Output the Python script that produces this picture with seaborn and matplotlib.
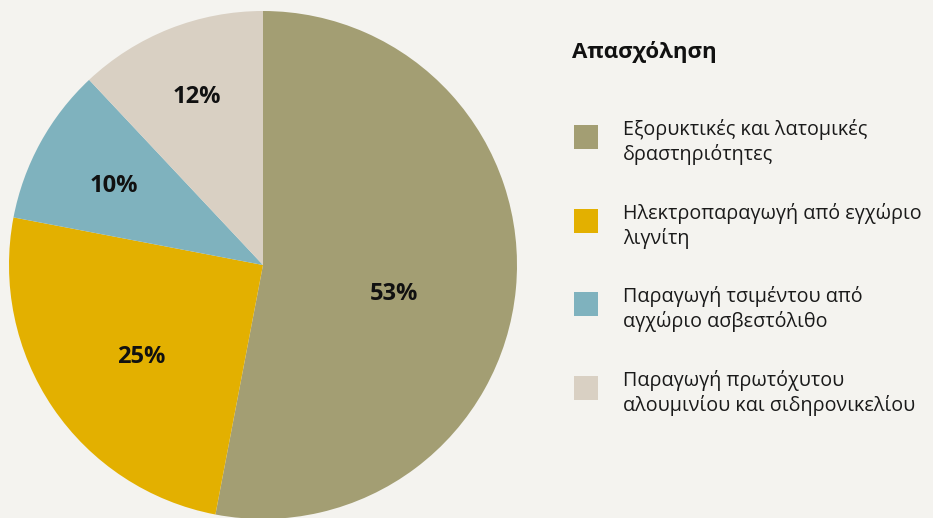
import numpy as np
import matplotlib
matplotlib.use("Agg")
import matplotlib.pyplot as plt
from matplotlib.patches import Rectangle
import seaborn as sns

categories = ["Εξορυκτικές και λατομικές\nδραστηριότητες",
              "Ηλεκτροπαραγωγή από εγχώριο\nλιγνίτη",
              "Παραγωγή τσιμέντου από\nαγχώριο ασβεστόλιθο",
              "Παραγωγή πρωτόχυτου\nαλουμινίου και σιδηρονικελίου"]
values = [53, 25, 10, 12]
pct_labels = ["53%", "25%", "10%", "12%"]
legend_title = "Απασχόληση"

colors = ["#A39E73", "#E3B000", "#7FB2BE", "#D9D0C3"]
bg = "#F4F3EF"
label_dist = [0.53, 0.60, 0.665, 0.71]
label_ang_off = [-7, 3, 1, 0]

sns.set_theme(style="white")
plt.rcParams["font.family"] = ["Open Sans", "DejaVu Sans"]

W, H = 933, 518
fig = plt.figure(figsize=(W / 100, H / 100), dpi=100, facecolor=bg)
cx, cy, r = 263, 265, 254
ax = fig.add_axes([(cx - r) / W, (H - cy - r) / H, 2 * r / W, 2 * r / H])
ax.set_facecolor(bg)
wedges, _ = ax.pie(values, colors=colors, startangle=90, counterclock=False,
                   radius=1, wedgeprops=dict(linewidth=0))
ax.set_xlim(-1, 1)
ax.set_ylim(-1, 1)
ax.set_aspect("equal")
ax.axis("off")

for w, lab, d, off in zip(wedges, pct_labels, label_dist, label_ang_off):
    ang = np.deg2rad((w.theta1 + w.theta2) / 2 + off)
    ax.text(d * np.cos(ang), d * np.sin(ang), lab, ha="center", va="center",
            fontsize=17, fontweight="bold", color="#111111")

fig.text(572 / W, 1 - 52 / H, legend_title, fontsize=16, fontweight="bold",
         color="#111111", ha="left", va="center")
sq = 24
centers = [137, 221, 304, 388]
for c, col, lab in zip(centers, colors, categories):
    fig.patches.append(Rectangle((574 / W, 1 - (c + sq / 2) / H), sq / W, sq / H,
                                 transform=fig.transFigure, facecolor=col,
                                 edgecolor="none"))
    fig.text(623 / W, 1 - (c + 5) / H, lab, fontsize=14.2, color="#1a1a1a",
             ha="left", va="center", linespacing=1.28)

fig.savefig("out.png", dpi=100, facecolor=bg)
